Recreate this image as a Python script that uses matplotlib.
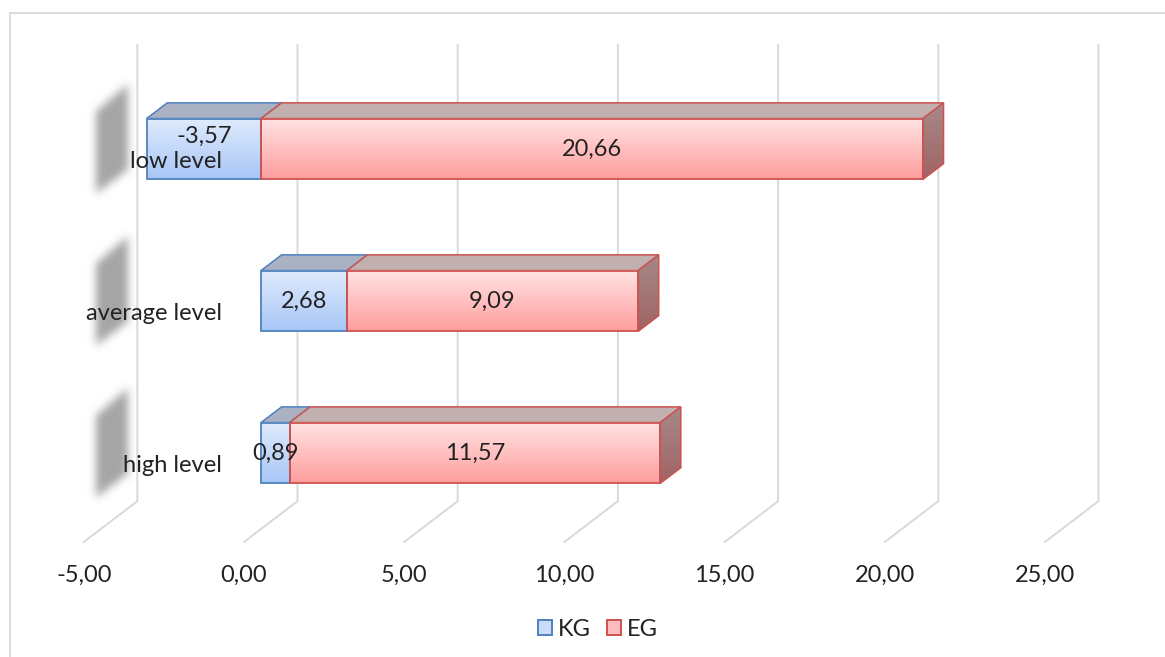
import numpy as np
import matplotlib
matplotlib.use('Agg')
import matplotlib.pyplot as plt
import matplotlib.colors as mcolors
from matplotlib.patches import Polygon, Rectangle, Patch
from matplotlib.lines import Line2D
from matplotlib.path import Path
from matplotlib.transforms import IdentityTransform, blended_transform_factory

# data
categories = ['low level', 'average level', 'high level']
kg = [-3.57, 2.68, 0.89]
eg = [20.66, 9.09, 11.57]
ticks = [-5, 0, 5, 10, 15, 20, 25]
tick_labels = ['-5,00', '0,00', '5,00', '10,00', '15,00', '20,00', '25,00']

plt.rcParams['font.family'] = ['Lato', 'DejaVu Sans']
TXT = '#222222'
FS = 17

W, H, DPI = 1165, 657, 100
fig = plt.figure(figsize=(W / DPI, H / DPI), dpi=DPI)
ax = fig.add_axes([0, 0, 1, 1])
ax.set_xlim(-8.146, 28.215)
ax.set_ylim(3.342, -0.980)
ax.set_autoscale_on(False)
ax.axis('off')
ax.set_zorder(1)

# fake 3d: depth in pixels, shifted right and up
SLOPE = 0.763
WALL, BAR_D, FRONT = 36.5, 20.6, -17.0
BAR_H = 0.40


def pt(v, y, depth=0.0):
    x0, y0 = ax.transData.transform((v, y))
    return (x0 + depth, y0 + depth * SLOPE)


def face(points, **kw):
    p = Polygon(points, closed=True, transform=IdentityTransform(), **kw)
    ax.add_patch(p)
    return p


def gradient(c_top, c_bot, n=64):
    a = np.array(mcolors.to_rgb(c_top))
    b = np.array(mcolors.to_rgb(c_bot))
    t = np.linspace(0, 1, n)[:, None]
    return (a + (b - a) * t)[:, None, :]


def soft_shadow(points, color='#a2a2a2', sigma=4.2, pad=16):
    pts = np.array(points)
    x0, y0 = np.floor(pts.min(axis=0)) - pad
    x1, y1 = np.ceil(pts.max(axis=0)) + pad
    xs, ys = np.arange(x0, x1) + 0.5, np.arange(y0, y1) + 0.5
    gx, gy = np.meshgrid(xs, ys)
    mask = Path(pts).contains_points(np.c_[gx.ravel(), gy.ravel()]).reshape(gx.shape).astype(float)
    k = np.exp(-0.5 * (np.arange(-13, 14) / sigma) ** 2)
    k /= k.sum()
    mask = np.apply_along_axis(lambda r: np.convolve(r, k, mode='same'), 1, mask)
    mask = np.apply_along_axis(lambda c: np.convolve(c, k, mode='same'), 0, mask)
    img = np.zeros(mask.shape + (4,))
    img[..., :3] = mcolors.to_rgb(color)
    img[..., 3] = mask * 0.97
    fig.figimage(img, xo=int(x0), yo=int(y0), origin='lower', zorder=0)


# back wall gridlines + floor diagonals
y_first, y_last = -0.5, len(categories) - 0.5
for v, lab in zip(ticks, tick_labels):
    p1, p2, p3 = pt(v, y_first, WALL), pt(v, y_last, WALL), pt(v, y_last, FRONT)
    ax.add_line(Line2D([p1[0], p2[0], p3[0]], [p1[1], p2[1], p3[1]],
                       transform=IdentityTransform(), color='#d9d9d9', lw=1.4, zorder=1))
    ax.text(p3[0], p3[1] - 33, lab, transform=IdentityTransform(), ha='center', va='center',
            fontsize=FS, color=TXT)

# blurred shadows on the left wall
for i in range(len(categories)):
    soft_shadow([pt(ticks[0], i - 0.27, -5), pt(ticks[0], i - 0.29, 27),
                 pt(ticks[0], i + 0.27, 27), pt(ticks[0], i + 0.27, -5)])

styles = {
    'KG': dict(top='#a9b1c2', g=('#dfebfd', '#a8c6f6'), edge='#4f81bd'),
    'EG': dict(top='#c2afaf', g=('#ffe3e3', '#ff9e9e'), edge='#cc5250',
               side=('#a89090', '#a06464')),
}

for i in range(len(categories)):
    segs = [('KG', min(kg[i], 0), max(kg[i], 0), kg[i]),
            ('EG', max(kg[i], 0), max(kg[i], 0) + eg[i], eg[i])]
    top, bot = i - BAR_H / 2, i + BAR_H / 2
    for k, (name, lo, hi, val) in enumerate(segs):
        st = styles[name]
        face([pt(lo, top), pt(hi, top), pt(hi, top, BAR_D), pt(lo, top, BAR_D)],
             fc=st['top'], ec=st['edge'], lw=1.1, zorder=3)
        ax.imshow(gradient(*st['g']), extent=(lo, hi, bot, top), origin='upper',
                  aspect='auto', interpolation='bilinear', zorder=3)
        ax.add_patch(Rectangle((lo, top), hi - lo, BAR_H, fill=False,
                               ec=st['edge'], lw=1.3, zorder=4))
        if k == len(segs) - 1:
            side = face([pt(hi, top), pt(hi, top, BAR_D), pt(hi, bot, BAR_D), pt(hi, bot)],
                        fc='none', ec=st['edge'], lw=1.1, zorder=4)
            im = ax.imshow(gradient(*st['side']), extent=(hi, hi + 1.5, bot, top - 0.2),
                           origin='upper', aspect='auto', interpolation='bilinear', zorder=3)
            im.set_clip_path(side)
        dy = -0.08 if val < 0 else 0
        ax.text((lo + hi) / 2, i + dy, f'{val:.2f}'.replace('.', ','), ha='center',
                va='center', fontsize=FS, color=TXT, zorder=6)

# category labels
tr = blended_transform_factory(ax.transAxes, ax.transData)
for i, c in enumerate(categories):
    ax.text(222 / W, i + 0.085, c, transform=tr, ha='right', va='center',
            fontsize=FS, color=TXT, zorder=6)

# legend
handles = [Patch(fc='#c9dcfa', ec='#4f81bd', lw=1.4), Patch(fc='#ffbcbc', ec='#cc5250', lw=1.4)]
fig.legend(handles, ['KG', 'EG'], loc='center', bbox_to_anchor=(598 / W, 1 - 629 / H),
           ncol=2, frameon=False, handlelength=0.6, handleheight=0.6,
           handletextpad=0.25, columnspacing=0.7, fontsize=FS, labelcolor=TXT)

# chart border (only top and left are inside the crop)
fig.add_artist(Rectangle((10 / W, -0.05), 1.2, 1.05 - 13 / H, fill=False,
                         ec='#d9d9d9', lw=1.3, transform=fig.transFigure))

fig.savefig('out.png', dpi=DPI)
